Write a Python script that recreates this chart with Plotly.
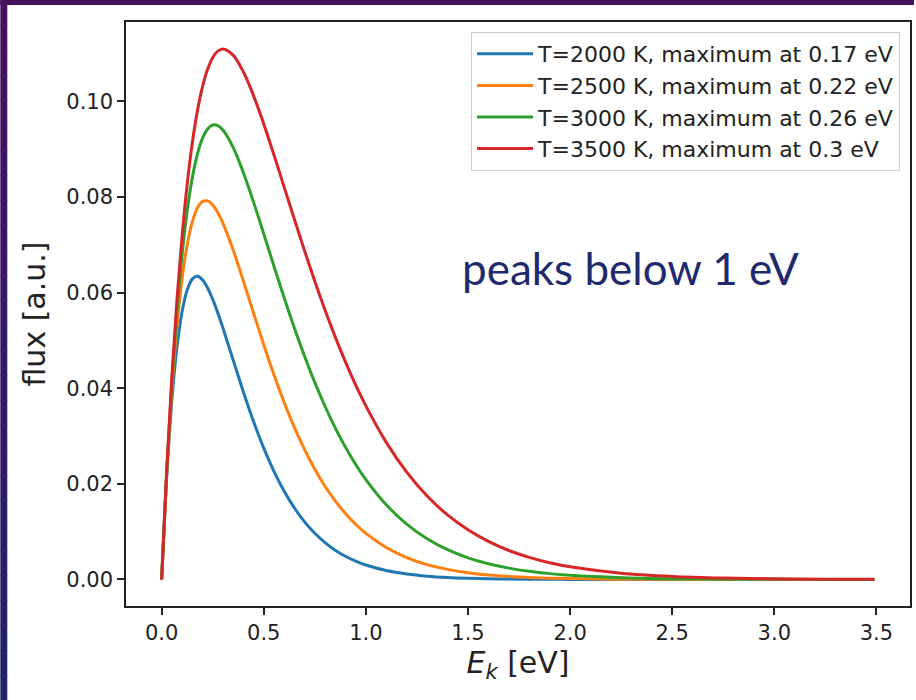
import plotly.graph_objects as go

# ---- data ----
energy_ev = [0.0, 0.025, 0.05, 0.075, 0.1, 0.125, 0.15, 0.175, 0.2, 0.225, 0.25, 0.275, 0.3,
             0.35, 0.4, 0.45, 0.5, 0.55, 0.6, 0.65, 0.7, 0.75, 0.8, 0.85, 0.9, 0.95, 1.0,
             1.1, 1.2, 1.3, 1.4, 1.5, 1.6, 1.7, 1.8, 1.9, 2.0,
             2.25, 2.5, 2.75, 3.0, 3.25, 3.49]

flux_2000 = [0.0, 0.02162, 0.03741, 0.04854, 0.05598, 0.06052, 0.06282, 0.06340, 0.06267,
             0.06098, 0.05861, 0.05576, 0.05262,
             0.04593, 0.03928, 0.03305, 0.02748, 0.02262, 0.01846, 0.01496, 0.01205, 0.00966,
             0.00771, 0.00613, 0.00486, 0.00384, 0.00302,
             0.00186, 0.00114, 0.00069, 0.00042, 0.00025, 0.00015, 0.000088, 0.000052,
             0.000031, 0.000018,
             0.000005, 0.000001, 0.0, 0.0, 0.0, 0.0]
flux_2500 = [0.0, 0.02226, 0.03964, 0.05295, 0.06287, 0.06997, 0.07477, 0.07767, 0.07904,
             0.07918, 0.07834, 0.07673, 0.07453,
             0.06894, 0.06246, 0.05572, 0.04909, 0.04281, 0.03703, 0.03180, 0.02716, 0.02307,
             0.01951, 0.01644, 0.01380, 0.01155, 0.00964,
             0.00667, 0.00457, 0.00311, 0.00211, 0.00142, 0.00095, 0.00064, 0.00042,
             0.00028, 0.00019,
             0.000065, 0.000023, 0.000008, 0.000003, 0.000001, 0.0]
flux_3000 = [0.0, 0.02270, 0.04121, 0.05611, 0.06792, 0.07708, 0.08397, 0.08893, 0.09226,
             0.09423, 0.09505, 0.09492, 0.09400,
             0.09039, 0.08513, 0.07893, 0.07228, 0.06552, 0.05891, 0.05259, 0.04668, 0.04121,
             0.03623, 0.03172, 0.02768, 0.02408, 0.02089,
             0.01561, 0.01157, 0.00851, 0.00623, 0.00453, 0.00328, 0.00237, 0.00170,
             0.00122, 0.00087,
             0.00037, 0.00016, 0.000066, 0.000027, 0.000011, 0.000005]
flux_3500 = [0.0, 0.02301, 0.04236, 0.05849, 0.07178, 0.08259, 0.09123, 0.09796, 0.10305,
             0.10671, 0.10914, 0.11050, 0.11096,
             0.10967, 0.10619, 0.10121, 0.09528, 0.08880, 0.08207, 0.07533, 0.06873, 0.06239,
             0.05638, 0.05075, 0.04553, 0.04072, 0.03631,
             0.02868, 0.02245, 0.01746, 0.01350, 0.01038, 0.00795, 0.00606, 0.00461,
             0.00349, 0.00264,
             0.00130, 0.00063, 0.00030, 0.00014, 0.000068, 0.000033]

series_names = ["T=2000 K, maximum at 0.17 eV", "T=2500 K, maximum at 0.22 eV",
                "T=3000 K, maximum at 0.26 eV", "T=3500 K, maximum at 0.3 eV"]
series_values = [flux_2000, flux_2500, flux_3000, flux_3500]
series_colors = ["#1f77b4", "#ff7f0e", "#2ca02c", "#d62728"]

annotation_text = "peaks below 1 eV"

# ---- figure ----
fig = go.Figure()
for name, vals, col in zip(series_names, series_values, series_colors):
    fig.add_trace(go.Scatter(x=energy_ev, y=vals, mode="lines", name=name,
                             line=dict(color=col, width=3, shape="spline", smoothing=1.0)))

W, H = 916, 700
L, R, T, B = 126, 4, 22, 94
pw, ph = W - L - R, H - T - B


def px_x(p):
    return (p - L) / pw


def px_y(p):
    return (H - B - p) / ph


shapes = []
# top border strip
shapes.append(dict(type="rect", xref="paper", yref="paper", x0=px_x(0), x1=px_x(W),
                   y0=px_y(5), y1=px_y(0), fillcolor="#43125c", line_width=0, layer="above"))
# left border strip with gradient purple -> navy
c0 = (0x45, 0x12, 0x5f)
c1 = (0x24, 0x20, 0x6b)
n = 28
for i in range(n):
    t = i / (n - 1)
    c = tuple(round(a + (b - a) * t) for a, b in zip(c0, c1))
    shapes.append(dict(type="rect", xref="paper", yref="paper", x0=px_x(0), x1=px_x(7),
                       y0=px_y(H * (i + 1) / n + 0.5), y1=px_y(H * i / n),
                       fillcolor="rgb(%d,%d,%d)" % c, line_width=0, layer="above"))

fig.update_layout(
    width=W, height=H,
    margin=dict(l=L, r=R, t=T, b=B, pad=0),
    paper_bgcolor="white", plot_bgcolor="white",
    font=dict(family="DejaVu Sans", color="#222222"),
    shapes=shapes,
    showlegend=True,
    legend=dict(x=px_x(902), xanchor="right", y=px_y(32), yanchor="top",
                bgcolor="white", bordercolor="#cccccc", borderwidth=1,
                font=dict(size=22, family="DejaVu Sans", color="#222222"),
                itemwidth=56, tracegroupgap=0),
    xaxis=dict(range=[-0.1745, 3.6645], tickmode="linear", tick0=0, dtick=0.5,
               tickformat=".1f", showgrid=False, zeroline=False,
               showline=True, linecolor="#222222", linewidth=1.5, mirror=True,
               ticks="outside", ticklen=7, tickwidth=1.5, tickcolor="#222222",
               tickfont=dict(size=21, family="DejaVu Sans", color="#222222"),
               title=dict(text="<i>E</i><sub><i>k</i></sub> [eV]", standoff=8,
                          font=dict(size=30, family="DejaVu Sans", color="#222222"))),
    yaxis=dict(range=[-0.00555, 0.1166], tickmode="linear", tick0=0, dtick=0.02,
               tickformat=".2f", showgrid=False, zeroline=False,
               showline=True, linecolor="#222222", linewidth=1.5, mirror=True,
               ticks="outside", ticklen=7, tickwidth=1.5, tickcolor="#222222",
               tickfont=dict(size=21, family="DejaVu Sans", color="#222222"),
               title=dict(text="flux [a.u.]", standoff=12,
                          font=dict(size=30, family="DejaVu Sans", color="#222222"))),
    annotations=[dict(x=px_x(632), y=px_y(268), xref="paper", yref="paper",
                      text=annotation_text, showarrow=False,
                      font=dict(size=44, family="Lato", color="#1f2a6e"))],
)

fig.write_html("out.html")
